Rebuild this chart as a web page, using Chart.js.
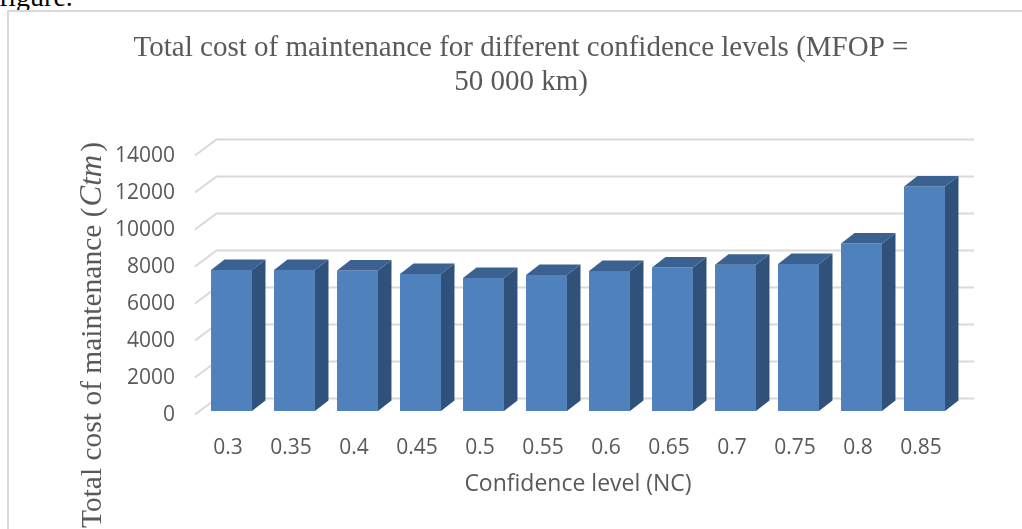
<!DOCTYPE html>
<html>
<head>
<meta charset="utf-8">
<script src="https://cdn.jsdelivr.net/npm/chart.js@4.4.1/dist/chart.umd.min.js"></script>
<style>
  html, body { margin: 0; padding: 0; background: #fff; overflow: hidden; width: 1022px; height: 529px; }
  #frame { position: absolute; left: 7px; top: 10px; width: 1100px; height: 600px;
           border-left: 2px solid #d9d9d9; border-top: 2px solid #d9d9d9; }
  #caption { position: absolute; left: -1px; top: -17px; font: 28px "Liberation Serif", serif;
             line-height: 28px; color: #000; }
  #myBarGraph { position: absolute; left: 0; top: 0; }
</style>
</head>
<body>
<div id="caption">figure.</div>
<div id="frame"></div>
<canvas id="myBarGraph" width="1042" height="529"></canvas>
<script>
// data
var xLabels = ["0.3","0.35","0.4","0.45","0.5","0.55","0.6","0.65","0.7","0.75","0.8","0.85"];
var costValues = [7620, 7620, 7590, 7410, 7190, 7350, 7570, 7760, 7910, 7950, 9060, 12130];
var yTicks = [0, 2000, 4000, 6000, 8000, 10000, 12000, 14000];

var titleLines = ["Total cost of maintenance for different confidence levels (MFOP =", "50 000 km)"];
var xTitle = "Confidence level (NC)";

// fake 3D depth of the columns and of the back wall
var barDepth = { dx: 13.5, dy: -10.5 };
var wallFront = { dx: -5, dy: 3.5 };
var wallBack = { dx: 16.5, dy: -12.5 };

var threeD = {
    id: 'threeD',
    beforeDatasetsDraw: function(chart) {
        var ctx = chart.ctx;
        var area = chart.chartArea;
        var yScale = chart.scales.y;
        ctx.save();
        ctx.strokeStyle = '#d9d9d9';
        ctx.lineWidth = 2;
        yTicks.forEach(function(v) {
            var y = yScale.getPixelForValue(v);
            ctx.beginPath();
            ctx.moveTo(area.left + wallFront.dx, y + wallFront.dy);
            ctx.lineTo(area.left + wallBack.dx, y + wallBack.dy);
            ctx.lineTo(area.right + 18, y + wallBack.dy);
            ctx.stroke();
        });
        ctx.restore();
    },
    afterDatasetsDraw: function(chart) {
        var ctx = chart.ctx;
        var meta = chart.getDatasetMeta(0);
        ctx.save();
        meta.data.forEach(function(bar) {
            var p = bar.getProps(['x', 'y', 'base', 'width'], true);
            var l = p.x - p.width / 2, r = p.x + p.width / 2;
            var t = p.y, b = p.base;
            // side face
            ctx.fillStyle = '#30527a';
            ctx.beginPath();
            ctx.moveTo(r, t);
            ctx.lineTo(r + barDepth.dx, t + barDepth.dy);
            ctx.lineTo(r + barDepth.dx, b + barDepth.dy);
            ctx.lineTo(r, b);
            ctx.closePath();
            ctx.fill();
            // top face
            ctx.fillStyle = '#3b6190';
            ctx.beginPath();
            ctx.moveTo(l, t);
            ctx.lineTo(l + barDepth.dx, t + barDepth.dy);
            ctx.lineTo(r + barDepth.dx, t + barDepth.dy);
            ctx.lineTo(r, t);
            ctx.closePath();
            ctx.fill();
        });
        ctx.restore();
    },
    afterDraw: function(chart) {
        // y axis title with the italic symbol
        var ctx = chart.ctx;
        var cy = 335;
        var part1 = "Total cost of maintenance (";
        var part2 = "Ctm";
        var part3 = ")";
        var normal = '29.5px "Liberation Serif", serif';
        var italic = 'italic 31px "Liberation Serif", serif';
        ctx.save();
        ctx.fillStyle = '#595959';
        ctx.textBaseline = 'alphabetic';
        ctx.textAlign = 'left';
        ctx.font = normal;
        var w1 = ctx.measureText(part1).width, w3 = ctx.measureText(part3).width;
        ctx.font = italic;
        var w2 = ctx.measureText(part2).width + 4;
        var total = w1 + w2 + w3;
        ctx.translate(101, cy);
        ctx.rotate(-Math.PI / 2);
        var x0 = -total / 2;
        ctx.font = normal;
        ctx.fillText(part1, x0, 0);
        ctx.font = italic;
        ctx.fillText(part2, x0 + w1 + 1, 0);
        ctx.font = normal;
        ctx.fillText(part3, x0 + w1 + w2, 0);
        ctx.restore();
    }
};

var graphID = document.getElementById("myBarGraph").getContext("2d");

var graphConfig = {
    type: 'bar',
    data: {
        labels: xLabels,
        datasets: [{
            label: 'Total cost of maintenance',
            data: costValues,
            backgroundColor: '#4f81bd',
            borderWidth: 0,
            barPercentage: 0.65,
            categoryPercentage: 1.0
        }]
    },
    options: {
        responsive: false,
        animation: false,
        devicePixelRatio: 1,
        layout: { padding: 0 },
        plugins: {
            legend: { display: false },
            tooltip: { enabled: false },
            title: {
                display: true,
                text: titleLines,
                color: '#595959',
                font: { family: 'Liberation Serif', size: 29, weight: 'normal', lineHeight: 1.155 },
                padding: { top: 32, bottom: 53 }
            }
        },
        scales: {
            x: {
                grid: { display: false, drawTicks: false },
                border: { display: false },
                ticks: {
                    color: '#595959',
                    font: { family: 'Open Sans', size: 21 },
                    padding: 24,
                    labelOffset: -3.5,
                    maxRotation: 0
                },
                title: {
                    display: true,
                    text: xTitle,
                    color: '#595959',
                    font: { family: 'Open Sans', size: 23 },
                    padding: { top: 0, bottom: 31 }
                },
                afterFit: function(scale) { scale.height = 118; }
            },
            y: {
                min: 0,
                max: 14000,
                grid: { display: false, drawTicks: false },
                border: { display: false },
                ticks: {
                    stepSize: 2000,
                    color: '#595959',
                    font: { family: 'Open Sans', size: 21 },
                    padding: 25,
                    labelOffset: 4,
                    callback: function(v) { return String(v); }
                },
                afterFit: function(scale) { scale.width = 200; }
            },
            // empty axis that only keeps room on the right, so the title stays centred on the frame
            yRight: {
                position: 'right',
                grid: { display: false, drawTicks: false },
                border: { display: false },
                ticks: { display: false },
                afterFit: function(scale) { scale.width = 86; }
            }
        }
    },
    plugins: [threeD]
};

var myChart = new Chart(graphID, graphConfig);
</script>
</body>
</html>
